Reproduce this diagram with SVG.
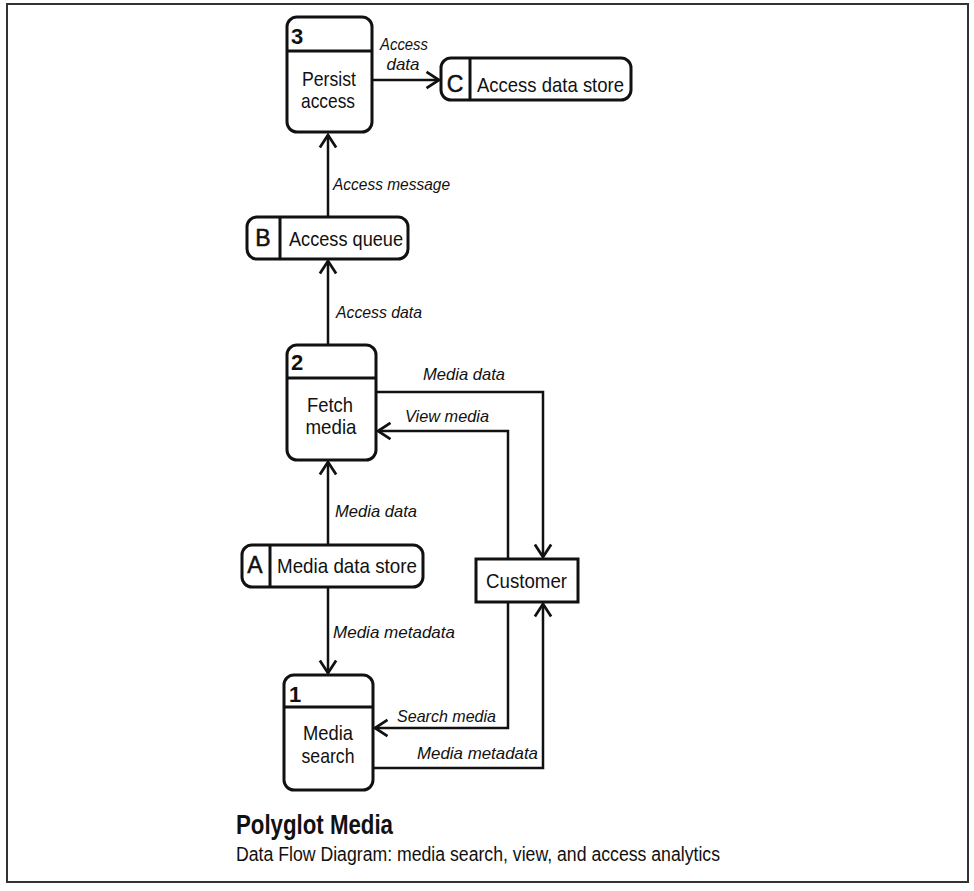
<svg xmlns="http://www.w3.org/2000/svg" width="974" height="891" viewBox="0 0 974 891">
<style>
.box{fill:#fff;stroke:#111;stroke-width:3}
.ln{fill:none;stroke:#111;stroke-width:2.5}
.t{font-family:"Liberation Sans",Arial,sans-serif;font-size:21px;fill:#111}
.n{font-family:"Liberation Sans",Arial,sans-serif;font-size:22px;font-weight:bold;fill:#111}
.s{font-family:"Liberation Sans",Arial,sans-serif;font-size:23px;fill:#111;stroke:#111;stroke-width:0.5}
.lb{font-family:"Liberation Sans",Arial,sans-serif;font-size:17px;font-style:italic;fill:#111}
.c{text-anchor:middle}
</style>
<defs>
<marker id="arr" markerUnits="userSpaceOnUse" markerWidth="20" markerHeight="20" viewBox="-12 -8 14 16" refX="0" refY="0" orient="auto">
<path d="M-10,-6.5 L0,0 L-10,6.5" fill="none" stroke="#111" stroke-width="2.2"/>
</marker>
</defs>
<rect x="7" y="4" width="961" height="878" fill="#fff" stroke="#333" stroke-width="2"/>
<g id="connectors">
<path class="ln" d="M372,80 H439" marker-end="url(#arr)"/>
<path class="ln" d="M328,217 V135" marker-end="url(#arr)"/>
<path class="ln" d="M328,345 V261" marker-end="url(#arr)"/>
<path class="ln" d="M376,392 H543 V557" marker-end="url(#arr)"/>
<path class="ln" d="M508,559 V431 H378" marker-end="url(#arr)"/>
<path class="ln" d="M328,545 V462" marker-end="url(#arr)"/>
<path class="ln" d="M328,587 V673" marker-end="url(#arr)"/>
<path class="ln" d="M508,602 V728 H375" marker-end="url(#arr)"/>
<path class="ln" d="M373,768 H543 V604" marker-end="url(#arr)"/>
<text class="lb c" x="404" y="50" textLength="48" lengthAdjust="spacingAndGlyphs">Access</text>
<text class="lb c" x="403" y="70" textLength="33" lengthAdjust="spacingAndGlyphs">data</text>
<text class="lb" x="333" y="190" textLength="117" lengthAdjust="spacingAndGlyphs">Access message</text>
<text class="lb" x="336" y="318" textLength="86" lengthAdjust="spacingAndGlyphs">Access data</text>
<text class="lb" x="423" y="380" textLength="82" lengthAdjust="spacingAndGlyphs">Media data</text>
<text class="lb" x="405" y="422" textLength="84" lengthAdjust="spacingAndGlyphs">View media</text>
<text class="lb" x="335" y="517" textLength="82" lengthAdjust="spacingAndGlyphs">Media data</text>
<text class="lb" x="333" y="638" textLength="122" lengthAdjust="spacingAndGlyphs">Media metadata</text>
<text class="lb" x="397" y="722" textLength="99" lengthAdjust="spacingAndGlyphs">Search media</text>
<text class="lb" x="417" y="759" textLength="121" lengthAdjust="spacingAndGlyphs">Media metadata</text>
</g>
<g id="node3">
<rect class="box" x="287" y="17" width="85" height="115" rx="10"/>
<line class="box" x1="287" y1="51" x2="372" y2="51"/>
<text class="n" x="291" y="44">3</text>
<text class="t c" x="329" y="86" textLength="54" lengthAdjust="spacingAndGlyphs">Persist</text>
<text class="t c" x="328" y="108" textLength="54" lengthAdjust="spacingAndGlyphs">access</text>
</g>
<g id="storeC">
<rect class="box" x="441" y="58" width="190" height="42" rx="10"/>
<line class="box" x1="470" y1="58" x2="470" y2="100"/>
<text class="s c" x="455" y="92">C</text>
<text class="t" x="477" y="92" textLength="147" lengthAdjust="spacingAndGlyphs">Access data store</text>
</g>
<g id="storeB">
<rect class="box" x="247" y="217" width="161" height="42" rx="10"/>
<line class="box" x1="280" y1="217" x2="280" y2="259"/>
<text class="s c" x="263" y="246">B</text>
<text class="t" x="289" y="246" textLength="114" lengthAdjust="spacingAndGlyphs">Access queue</text>
</g>
<g id="node2">
<rect class="box" x="287" y="345" width="89" height="115" rx="10"/>
<line class="box" x1="287" y1="378" x2="376" y2="378"/>
<text class="n" x="291" y="370">2</text>
<text class="t c" x="330" y="412" textLength="46" lengthAdjust="spacingAndGlyphs">Fetch</text>
<text class="t c" x="331" y="434" textLength="51" lengthAdjust="spacingAndGlyphs">media</text>
</g>
<g id="storeA">
<rect class="box" x="242" y="545" width="181" height="42" rx="10"/>
<line class="box" x1="270" y1="545" x2="270" y2="587"/>
<text class="s c" x="255" y="573">A</text>
<text class="t" x="277" y="573" textLength="140" lengthAdjust="spacingAndGlyphs">Media data store</text>
</g>
<g id="customer">
<rect class="box" x="476" y="559" width="102" height="43"/>
<text class="t" x="486" y="588" textLength="81" lengthAdjust="spacingAndGlyphs">Customer</text>
</g>
<g id="node1">
<rect class="box" x="284" y="675" width="89" height="115" rx="10"/>
<line class="box" x1="284" y1="707" x2="373" y2="707"/>
<text class="n" x="289" y="702">1</text>
<text class="t c" x="328" y="740" textLength="50" lengthAdjust="spacingAndGlyphs">Media</text>
<text class="t c" x="328" y="763" textLength="53" lengthAdjust="spacingAndGlyphs">search</text>
</g>
<g id="title">
<text class="n" x="236" y="834" style="font-size:27px" textLength="157" lengthAdjust="spacingAndGlyphs">Polyglot Media</text>
<text class="t" x="236" y="861" style="font-size:19.5px" textLength="484" lengthAdjust="spacingAndGlyphs">Data Flow Diagram: media search, view, and access analytics</text>
</g>
</svg>
